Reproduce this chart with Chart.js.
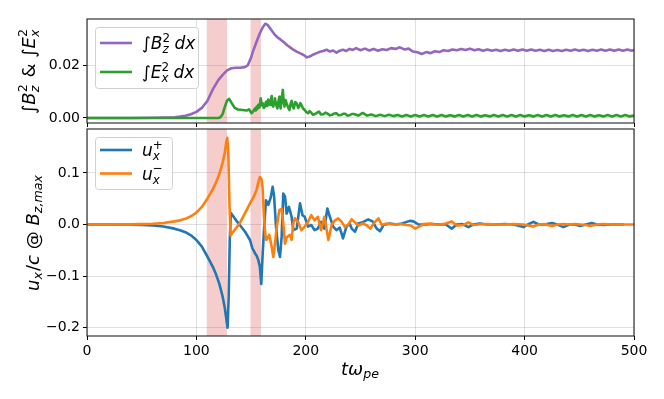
<!DOCTYPE html>
<html><head><meta charset="utf-8">
<script src="https://cdn.jsdelivr.net/npm/chart.js@4.4.1/dist/chart.umd.min.js"></script>
<style>
html,body{margin:0;padding:0;background:#fff;}
#wrap{position:relative;width:664px;height:399px;background:#fff;}
canvas{position:absolute;left:0;top:0;}
</style></head><body>
<div id="wrap"><canvas id="ctop" width="664" height="399"></canvas><canvas id="cbot" width="664" height="399"></canvas></div>
<script>
// ---------- data ----------
const spans = [[109.5,128],[149.5,159]];
const xTicks = [0,100,200,300,400,500];
const topTicks = [0,0.02];
const topTickLabels = ['0.00','0.02'];
const botTicks = [-0.2,-0.1,0,0.1];
const botTickLabels = ['\u22120.2','\u22120.1','0.0','0.1'];

// integral of Bz^2 dx  (t, value)
const bz2 = [[0,0],[20,0],[40,0],[60,0.0001],[70,0.0002],[80,0.0003],[85,0.0005],[90,0.0008],[95,0.0014],[100,0.0023],[105,0.0038],[110,0.0064],[115,0.0108],[120,0.0143],[124,0.0163],[128,0.0180],[132,0.0188],[136,0.0190],[140,0.0190],[144,0.0192],[147,0.0199],[150,0.0228],[152,0.0255],[155,0.0288],[158,0.0320],[161,0.0345],[163,0.0356],[165,0.0352],[168,0.0335],[171,0.0318],[174,0.0305],[177,0.0296],[180,0.0286],[183,0.0275],[186,0.0266],[189,0.0257],[192,0.0250],[195,0.0244],[198,0.0238],[201,0.0229],[204,0.0233],[207,0.0240],[210,0.0245],[213,0.0250],[216,0.0253],[219,0.0258],[222,0.0251],[225,0.0255],[228,0.0247],[231,0.0254],[234,0.0258],[237,0.0253],[240,0.0261],[243,0.0257],[246,0.0264],
[250,0.0256],[254,0.0262],[258,0.0255],[262,0.0261],[266,0.0254],[270,0.0260],[274,0.0257],[278,0.0264],[282,0.0261],[286,0.0267],[290,0.0259],[294,0.0262],[298,0.0251],[302,0.0248],[306,0.0242],[310,0.0249],[314,0.0245],[318,0.0252],[322,0.0249],[326,0.0256],[330,0.0253],[334,0.0259],[338,0.0256],[342,0.0261],[346,0.0257],[350,0.0262],[354,0.0256],[358,0.0260],[362,0.0254],[366,0.0259],[370,0.0254],[374,0.0258],[378,0.0253],[382,0.0258],[386,0.0254],[390,0.0259],[394,0.0254],[398,0.0259],[402,0.0254],[406,0.0259],[410,0.0254],[414,0.0258],[418,0.0253],[422,0.0258],[426,0.0253],[430,0.0257],[434,0.0253],[438,0.0258],[442,0.0254],[446,0.0259],[450,0.0254],[454,0.0258],[458,0.0253],[462,0.0258],[466,0.0254],[470,0.0259],[474,0.0254],[478,0.0259],[482,0.0254],[486,0.0259],[490,0.0254],[494,0.0259],[498,0.0254],[500,0.0257]];

// integral of Ex^2 dx  (t, value)
const ex2 = [[0,0],[50,0],[100,0],[120,0],[122,0.0003],[124,0.0015],[126,0.0042],[128,0.0066],[130,0.0072],[132,0.0058],[135,0.0038],[138,0.0032],[142,0.0030],[146,0.0028],[148,0.0033],[150.5,0.0018],[152,0.0026],[153.6,0.0036],[154.3,0.0028],[155,0.0042],[155.8,0.0034],[156.6,0.0050],[157.7,0.0040],[158.8,0.0074],[159.7,0.0048],[160.6,0.0055],[161.6,0.0038],[162.7,0.0043],[163.3,0.0058],[164,0.0062],[164.8,0.0045],[165.7,0.0070],[166.5,0.0056],[167.3,0.0049],[168.1,0.0066],[168.8,0.0083],[169.6,0.0052],[170.3,0.0043],[171,0.0060],[171.8,0.0074],[172.9,0.0050],[174,0.0036],[175,0.0062],[175.8,0.0080],[176.4,0.0052],[177,0.0036],[178,0.0070],[179,0.0106],[179.8,0.0060],[180.5,0.0043],[181.5,0.0068],[182.5,0.0055],[183.8,0.0040],[185,0.0030],[186,0.0052],[187,0.0065],[188,0.0045],[189,0.0036],[190.3,0.0060],[191.7,0.0055],[193,0.0038],[194,0.0043],[195,0.0056],[196,0.0049],[197.5,0.0036],[199,0.0030],[200.5,0.0022],[202,0.0018],[203.5,0.0026],[205,0.0020],[206.5,0.0012],[208,0.0014],[210,0.0019],[212,0.0024],[214,0.0013],[216,0.0014],[218,0.0020],[220,0.0016],[222,0.0010],[224,0.0012],[226,0.0017],[228,0.0018],[230,0.0010],[232,0.0011],[234,0.0016],[236,0.0016],[238,0.0009],[240,0.0010],[242,0.0015],[244,0.0015],
[248,0.0009],[252,0.0019],[256,0.0009],[260,0.0013],[264,0.0007],[268,0.0012],[272,0.0007],[276,0.0012],[280,0.0007],[284,0.0011],[288,0.0006],[292,0.0011],[296,0.0006],[300,0.0011],[304,0.0006],[308,0.0011],[312,0.0006],[316,0.0011],[320,0.0006],[324,0.0011],[328,0.0006],[332,0.0010],[336,0.0006],[340,0.0011],[344,0.0006],[348,0.0011],[352,0.0006],[356,0.0011],[360,0.0006],[364,0.0010],[368,0.0006],[372,0.0011],[376,0.0006],[380,0.0011],[384,0.0006],[388,0.0011],[392,0.0006],[396,0.0011],[400,0.0006],[404,0.0010],[408,0.0006],[412,0.0011],[416,0.0006],[420,0.0011],[424,0.0006],[428,0.0011],[432,0.0006],[436,0.0010],[440,0.0006],[444,0.0011],[448,0.0006],[452,0.0011],[456,0.0006],[460,0.0011],[464,0.0006],[468,0.0010],[472,0.0006],[476,0.0011],[480,0.0006],[484,0.0011],[488,0.0006],[492,0.0011],[496,0.0006],[500,0.0009]];

// u_x^+ / c at Bz,max  (t, value)
const uPlus = [[0,0],[20,0],[40,-0.0004],[50,-0.001],[60,-0.002],[70,-0.004],[80,-0.008],[85,-0.011],[90,-0.015],[95,-0.021],[100,-0.030],[105,-0.043],[110,-0.062],[115,-0.082],[118,-0.097],[121,-0.115],[124,-0.140],[126,-0.162],[127.5,-0.185],[128.5,-0.200],[129.5,-0.140],[130.5,-0.030],[131.5,0.022],[134,0.015],[137,0.006],[140,-0.002],[144.5,-0.014],[149,-0.030],[151,-0.045],[153.6,-0.056],[155,-0.060],[156.6,-0.069],[158,-0.082],[159.3,-0.115],[160.5,-0.060],[161.8,-0.010],[163.6,0.047],[165.7,0.038],[167.9,0.052],[169.7,0.073],[171,0.055],[172.8,-0.005],[174.9,-0.050],[176.4,-0.063],[177.9,-0.024],[179.4,0.060],[181,0.054],[182.5,0.021],[184.6,0.034],[187,0.015],[188.6,-0.011],[191.7,-0.008],[194.7,0.041],[197,0.018],[199,0.015],[202,-0.004],[205,-0.001],[208,-0.011],[211,-0.008],[214,0.005],[217,-0.008],[219.7,0.031],[222,0.015],[225,-0.004],[228,-0.011],[231,-0.006],[234,-0.027],[237,-0.005],[240,0.002],[242,-0.008],[245,-0.014],[248,0.002],[252.6,0.005],[257,0.010],[261,0.006],[264.8,-0.008],[267.9,-0.013],[271,-0.001],[277,0.002],[283,0],[288,0.002],[295,0.007],[298.4,0.006],[303,0],[310,0],[316,0.001],[322,0],[328,0],[333.4,-0.008],[338,0],[343,0.001],[348.6,-0.005],[353,0],[359,0.002],[366,0],[374,0],[382,0.001],[390,0],[399,-0.005],[403,0],[408,0.005],[413,0],[418,0],[425,0.003],[430,0],[435.5,-0.005],[441,0],[446,0],[450.8,-0.003],[456,0],[461.4,0.003],[466,0],[472,-0.001],[480,0],[490,0]];

// u_x^- / c at Bz,max  (t, value)
const uMinus = [[0,0],[40,0.0003],[50,0.0007],[60,0.0015],[70,0.003],[80,0.006],[85,0.008],[90,0.011],[95,0.016],[100,0.023],[105,0.034],[110,0.050],[115,0.068],[118,0.082],[121,0.098],[124,0.120],[126,0.140],[127.2,0.158],[128.2,0.168],[129.2,0.135],[130.2,0.040],[131.3,-0.021],[134,-0.013],[137,-0.005],[140,0.004],[144,0.020],[149,0.041],[152,0.052],[155,0.067],[157,0.085],[158,0.092],[159.5,0.088],[160.5,0.070],[161.8,0.015],[163,-0.020],[164,-0.030],[166.6,-0.020],[168.8,-0.043],[170.3,-0.063],[171.8,-0.037],[173.4,-0.005],[175.8,0.028],[177.9,0.030],[179.4,0.002],[181,-0.037],[182.5,-0.025],[185.6,-0.020],[187,-0.030],[188.6,0.002],[190,0.012],[193,0.005],[196,-0.011],[199,-0.004],[202,0.005],[205,0.018],[208,0.008],[211,0.015],[214,-0.011],[217,0.015],[220.6,-0.030],[223.6,-0.001],[226.7,0.008],[229.7,0.012],[232.8,0.005],[235.8,-0.005],[238.9,0],[242,0.010],[245,0.004],[248,-0.002],[252,0.002],[256,-0.002],[259,-0.008],[262,0.002],[266.4,0.012],[269.4,-0.001],[274,0.002],[280,0],[286,0.001],[292,-0.001],[296,-0.002],[300,-0.008],[304.5,-0.003],[308,0.001],[313.6,0.002],[318,0],[322.8,0],[328,0.002],[333.4,0.006],[338,-0.002],[344,-0.001],[348.6,0.004],[353,-0.001],[358,0],[366,0.001],[374,0],[382,0],[390,0.001],[399,0],[408,-0.004],[413,0],[418,0.001],[425,-0.003],[430,0],[435.5,0.001],[441,0],[446,0.001],[450.8,0],[456,-0.001],[460,-0.003],[466,0],[472,0.001],[480,0],[490,0],[500,0]];

// ---------- styling ----------
const C_PURPLE='#9467bd', C_GREEN='#2ca02c', C_BLUE='#1f77b4', C_ORANGE='#ff7f0e';
const GRID='rgba(0,0,0,0.12)';
Chart.defaults.font.family='"DejaVu Sans", sans-serif';
Chart.defaults.color='#000';

function mkFont(it,s){return (it?'italic ':'')+s+'px "DejaVu Sans"';}
function itemWidth(ctx,it,size){
  if(it.t!==undefined){ctx.font=mkFont(it.it,size);return ctx.measureText(it.t).width;}
  ctx.font=mkFont(it.subIt!==false,size*0.7);const a=it.sub?ctx.measureText(it.sub).width:0;
  ctx.font=mkFont(!!it.supIt,size*0.7);const b=it.sup?ctx.measureText(it.sup).width:0;
  return Math.max(a,b)+size*0.06;
}
function drawMath(ctx,items,size,x,y,align){
  const ws=items.map(it=>itemWidth(ctx,it,size));
  const w=ws.reduce((p,q)=>p+q,0);
  let cx=align==='center'?x-w/2:x;
  ctx.textAlign='left';ctx.textBaseline='alphabetic';
  items.forEach((it,i)=>{
    if(it.t!==undefined){ctx.font=mkFont(it.it,size);ctx.fillText(it.t,cx,y);}
    else{
      const sy = it.sup ? 0.24 : 0.16;
      if(it.sub){ctx.font=mkFont(it.subIt!==false,size*0.7);ctx.fillText(it.sub,cx,y+sy*size);}
      if(it.sup){ctx.font=mkFont(!!it.supIt,size*0.7);ctx.fillText(it.sup,cx,y-0.42*size);}
    }
    cx+=ws[i];
  });
  return w;
}
const LBL_TOP=[{t:'\u222B'},{t:'B',it:1},{sub:'z',sup:'2'},{t:' & '},{t:'\u222B'},{t:'E',it:1},{sub:'x',sup:'2'}];
const LBL_BOT=[{t:'u',it:1},{sub:'x'},{t:'/'},{t:'c',it:1},{t:' @ '},{t:'B',it:1},{sub:'z,max'}];
const LBL_X=[{t:'t\u03C9',it:1},{sub:'pe'}];
const LEG_B=[{t:'\u222B'},{t:'B',it:1},{sub:'z',sup:'2'},{t:'\u2009'},{t:'dx',it:1}];
const LEG_E=[{t:'\u222B'},{t:'E',it:1},{sub:'x',sup:'2'},{t:'\u2009'},{t:'dx',it:1}];
const LEG_P=[{t:'u',it:1},{sub:'x',sup:'+'}];
const LEG_M=[{t:'u',it:1},{sub:'x',sup:'\u2212'}];

function roundRect(ctx,x,y,w,h,r){ctx.beginPath();ctx.moveTo(x+r,y);ctx.lineTo(x+w-r,y);ctx.quadraticCurveTo(x+w,y,x+w,y+r);ctx.lineTo(x+w,y+h-r);ctx.quadraticCurveTo(x+w,y+h,x+w-r,y+h);ctx.lineTo(x+r,y+h);ctx.quadraticCurveTo(x,y+h,x,y+h-r);ctx.lineTo(x,y+r);ctx.quadraticCurveTo(x,y,x+r,y);ctx.closePath();}

function decoPlugin(cfg){
  return {
    id:'deco',
    beforeDatasetsDraw(chart){
      const {ctx,chartArea:a,scales:{x}}=chart;
      ctx.save();ctx.fillStyle='rgba(214,39,40,0.23)';
      for(const [s,e] of spans){const x0=x.getPixelForValue(s),x1=x.getPixelForValue(e);ctx.fillRect(x0,a.top,x1-x0,a.bottom-a.top);}
      ctx.restore();
    },
    afterDraw(chart){
      const {ctx,chartArea:a}=chart;
      ctx.save();
      ctx.strokeStyle='#222';ctx.lineWidth=1.1;
      ctx.strokeRect(a.left,a.top,a.right-a.left,a.bottom-a.top);
      // legend
      const L=cfg.legend;
      const bx=a.left+8, by=a.top+8;
      ctx.fillStyle='rgba(255,255,255,0.85)';ctx.strokeStyle='#d0d0d0';ctx.lineWidth=1;
      roundRect(ctx,bx+0.5,by+0.5,L.w,L.h,3);ctx.fill();ctx.stroke();
      L.rows.forEach(r=>{
        const ly=by+r.dy;
        ctx.strokeStyle=r.color;ctx.lineWidth=2.6;ctx.lineCap='butt';
        ctx.beginPath();ctx.moveTo(bx+5,ly);ctx.lineTo(bx+37,ly);ctx.stroke();
        ctx.fillStyle='#000';
        drawMath(ctx,r.items,L.fs,bx+47,ly+6,'left');
      });
      // y label (rotated)
      ctx.fillStyle='#000';
      ctx.save();
      ctx.translate(cfg.ylab.x,(a.top+a.bottom)/2);
      ctx.rotate(-Math.PI/2);
      drawMath(ctx,cfg.ylab.items,18,0,0,'center');
      ctx.restore();
      if(cfg.xlab){
        drawMath(ctx,LBL_X,18,(a.left+a.right)/2,cfg.xlab.y,'center');
      }
      ctx.restore();
    }
  };
}

function makeChart(id,datasets,cfg){
  return new Chart(document.getElementById(id),{
    type:'line',
    data:{datasets},
    options:{
      responsive:false,animation:false,devicePixelRatio:1,
      layout:{padding:cfg.pad},
      plugins:{legend:{display:false},tooltip:{enabled:false}},
      elements:{point:{radius:0},line:{borderWidth:2.6,tension:0,borderJoinStyle:'round',borderCapStyle:'round'}},
      scales:{
        x:{type:'linear',min:0,max:500,
          afterBuildTicks:s=>{s.ticks=xTicks.map(v=>({value:v}));},
          afterFit:s=>{s.height=cfg.xh;},
          grid:{color:GRID,lineWidth:1,tickColor:'#000',tickLength:4,tickWidth:1},
          border:{display:false},
          ticks:{display:cfg.xlabels,padding:3,font:{size:14},maxRotation:0,autoSkip:false,callback:v=>String(v)}},
        y:{type:'linear',min:cfg.ymin,max:cfg.ymax,
          afterBuildTicks:s=>{s.ticks=cfg.yticks.map(v=>({value:v}));},
          afterFit:s=>{s.width=87;},
          grid:{color:GRID,lineWidth:1,tickColor:'#000',tickLength:4,tickWidth:1},
          border:{display:false},
          ticks:{padding:3,font:{size:14},autoSkip:false,callback:(v,i)=>cfg.ylabels[i]}}
      }
    },
    plugins:[decoPlugin(cfg)]
  });
}

const toXY = arr => arr.map(p=>({x:p[0],y:p[1]}));

makeChart('ctop',[
  {data:toXY(ex2),borderColor:C_GREEN,order:0},
  {data:toXY(bz2),borderColor:C_PURPLE,order:1}
],{
  pad:{left:0,right:30,top:19,bottom:272},xh:4,xlabels:false,
  ymin:-0.0019,ymax:0.0374,yticks:topTicks,ylabels:topTickLabels,
  legend:{w:103,h:61,fs:17,rows:[{dy:16,color:C_PURPLE,items:LEG_B},{dy:45,color:C_GREEN,items:LEG_E}]},
  ylab:{x:35,items:LBL_TOP}
});

makeChart('cbot',[
  {data:toXY(uMinus),borderColor:C_ORANGE,order:0},
  {data:toXY(uPlus),borderColor:C_BLUE,order:1}
],{
  pad:{left:0,right:30,top:129,bottom:0},xh:63,xlabels:true,
  ymin:-0.216,ymax:0.185,yticks:botTicks,ylabels:botTickLabels,
  legend:{w:77,h:52,fs:17,rows:[{dy:13,color:C_BLUE,items:LEG_P},{dy:36.5,color:C_ORANGE,items:LEG_M}]},
  ylab:{x:39,items:LBL_BOT},
  xlab:{y:375}
});
</script>
</body></html>
